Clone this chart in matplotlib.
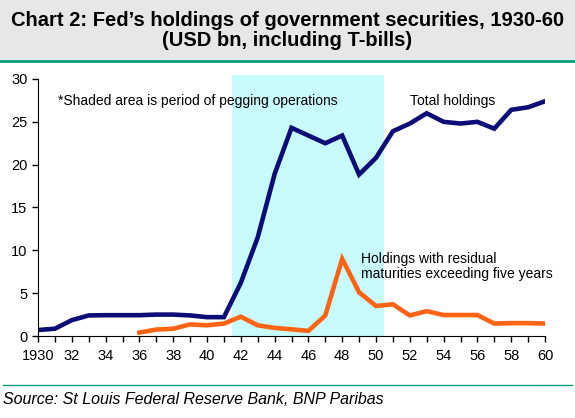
import matplotlib.pyplot as plt
from matplotlib.patches import Rectangle
from matplotlib.lines import Line2D

plt.rcParams['font.family'] = ['Liberation Sans', 'DejaVu Sans']

# Data (USD bn)
years = list(range(1930, 1961))
total = [0.7, 0.85, 1.85, 2.4, 2.43, 2.43, 2.43, 2.5, 2.5, 2.4, 2.2, 2.2,
         6.2, 11.5, 18.9, 24.3, 23.4, 22.5, 23.4, 18.85, 20.8, 23.9, 24.8,
         26.0, 25.0, 24.8, 25.0, 24.2, 26.4, 26.7, 27.4]
long_years = list(range(1936, 1961))
long_mat = [0.4, 0.75, 0.85, 1.35, 1.25, 1.45, 2.25, 1.25, 0.95, 0.78, 0.6,
            2.4, 9.0, 5.1, 3.5, 3.7, 2.4, 2.9, 2.45, 2.45, 2.45, 1.45, 1.5,
            1.5, 1.45]
peg_start, peg_end = 1941.5, 1950.5
xtick_labels = ['1930'] + [str(y % 100) for y in range(1932, 1961, 2)]

navy = '#0d0d78'
orange = '#ff6414'
H = 418

fig = plt.figure(figsize=(5.75, 4.18), dpi=100)

# title band and rules
fig.patches.append(Rectangle((0, 1 - 60 / H), 1, 60 / H, transform=fig.transFigure,
                             facecolor='#e7e7ea', edgecolor='none', zorder=0))
fig.lines.append(Line2D([0, 1], [1 - 61 / H] * 2, transform=fig.transFigure,
                        color='#089a7a', lw=2))
fig.lines.append(Line2D([0.005, 0.995], [1 - 385 / H] * 2, transform=fig.transFigure,
                        color='#089a7a', lw=1))
fig.text(0.5, 1 - 20 / H, 'Chart 2: Fed\u2019s holdings of government securities, 1930-60',
         ha='center', va='center', fontsize=14.5, fontweight='bold')
fig.text(0.5, 1 - 41 / H, '(USD bn, including T-bills)',
         ha='center', va='center', fontsize=14.5, fontweight='bold')
fig.text(3 / 575, 1 - 399 / H, 'Source: St Louis Federal Reserve Bank, BNP Paribas',
         ha='left', va='center', fontsize=11.5, style='italic')

ax = fig.add_axes([38 / 575, 1 - 336 / H, (545 - 38) / 575, (336 - 79) / H])
ax.axvspan(peg_start, peg_end, ymin=0, ymax=30.45 / 30, color='#c8fcfc',
           lw=0, clip_on=False, zorder=0)
ax.plot(years, total, color=navy, lw=3.3, solid_joinstyle='miter', zorder=3)
ax.plot(long_years, long_mat, color=orange, lw=3.3, solid_joinstyle='miter', zorder=3)

ax.set_xlim(1930, 1960)
ax.set_ylim(0, 30)
ax.set_xticks(years, minor=True)
ax.set_xticks(range(1930, 1961, 2))
ax.set_xticklabels(xtick_labels)
ax.set_yticks(range(0, 31, 5))
ax.tick_params(axis='both', which='both', direction='out', length=4, width=1,
               labelsize=10.5, colors='black')
ax.tick_params(axis='x', which='major', pad=5)
for s in ['top', 'right']:
    ax.spines[s].set_visible(False)
ax.spines['left'].set_zorder(4)
ax.spines['bottom'].set_zorder(4)
ax.patch.set_alpha(0)

ax.text(1931.2, 27.4, '*Shaded area is period of pegging operations',
        fontsize=10, va='center', ha='left')
ax.text(1952.0, 27.4, 'Total holdings', fontsize=10, va='center', ha='left')
ax.text(1949.1, 8.1, 'Holdings with residual\nmaturities exceeding five years',
        fontsize=10, va='center', ha='left', linespacing=1.05)

fig.savefig('out.png', dpi=100)
